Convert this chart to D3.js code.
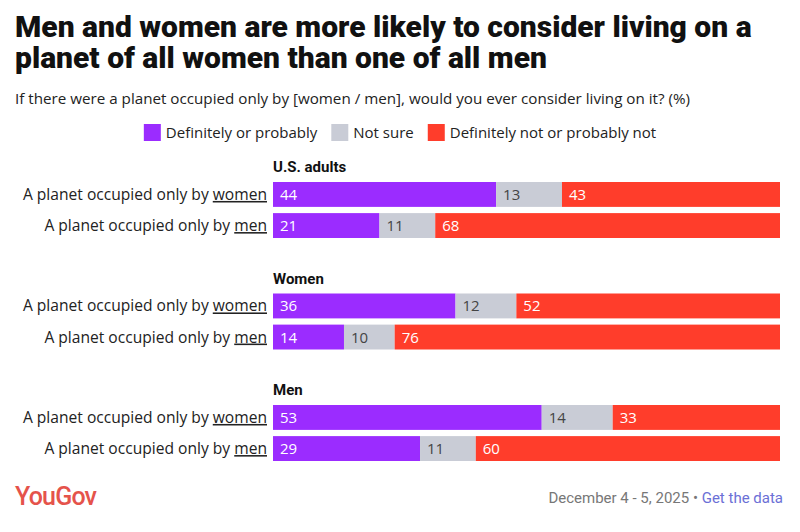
<!DOCTYPE html>
<html>
<head>
<meta charset="utf-8">
<script src="https://cdn.jsdelivr.net/npm/d3@7"></script>
<style>
  body { margin: 0; background: #fff; }
  svg { display: block; font-family: "Open Sans", sans-serif; }
</style>
</head>
<body>
<svg id="chart" width="800" height="532"></svg>
<script>
// data
var groups = ["U.S. adults", "Women", "Men"];
var rows = ["women", "men"];
var answers = ["Definitely or probably", "Not sure", "Definitely not or probably not"];
var colors = ["#9b2cff", "#c9ccd6", "#ff3d2b"];
var yes = [[44, 21], [36, 14], [53, 29]];
var notSure = [[13, 11], [12, 10], [14, 11]];
var no = [[43, 68], [52, 76], [33, 60]];

var svg = d3.select("#chart");

// title + subtitle
var title = svg.append("text")
    .attr("x", 15).attr("y", 37)
    .style("font-family", "Roboto, sans-serif")
    .style("font-weight", 900)
    .style("font-size", "30px")
    .style("fill", "#111");
title.append("tspan").attr("x", 15).attr("y", 37).text("Men and women are more likely to consider living on a");
title.append("tspan").attr("x", 15).attr("y", 68).text("planet of all women than one of all men");

svg.append("text")
    .attr("x", 15).attr("y", 104)
    .style("font-size", "15.2px")
    .style("fill", "#222")
    .text("If there were a planet occupied only by [women / men], would you ever consider living on it? (%)");

// legend, centred
var legend = svg.append("g").attr("id", "legend");
var lx = 0;
answers.forEach(function (a, i) {
    var g = legend.append("g").attr("transform", "translate(" + lx + ",0)");
    g.append("rect").attr("x", 0).attr("y", 124).attr("width", 17).attr("height", 17).style("fill", colors[i]);
    var t = g.append("text").attr("x", 22).attr("y", 138)
        .style("font-size", "15px").style("fill", "#222").text(a);
    lx += 22 + t.node().getComputedTextLength() + 14;
});
lx -= 14;
legend.attr("transform", "translate(" + (400 - lx / 2) + ",0)");

// scales
var x = d3.scaleLinear().domain([0, 100]).range([273, 780]);
var yGroup = d3.scalePoint().domain(groups).range([182, 405]);
var yRow = d3.scaleBand().domain(rows).range([0, 56]).paddingInner(0.2);

var stack = d3.stack().keys([0, 1, 2]);

groups.forEach(function (grp, gi) {
    var g0 = yGroup(grp);

    svg.append("text")
        .attr("x", x(0)).attr("y", g0 - 10)
        .style("font-family", "Roboto, sans-serif")
        .style("font-weight", 700)
        .style("font-size", "15px")
        .style("fill", "#111")
        .text(grp);

    var table = rows.map(function (r, ri) {
        return { row: r, 0: yes[gi][ri], 1: notSure[gi][ri], 2: no[gi][ri] };
    });
    var series = stack(table);

    series.forEach(function (s, si) {
        s.forEach(function (d) {
            var y0 = g0 + yRow(d.data.row);
            svg.append("rect")
                .attr("x", x(d[0]))
                .attr("y", y0)
                .attr("width", x(d[1]) - x(d[0]))
                .attr("height", yRow.bandwidth())
                .style("fill", colors[si]);
            svg.append("text")
                .attr("x", x(d[0]) + 7)
                .attr("y", y0 + yRow.bandwidth() / 2 + 5.5)
                .style("font-size", "15px")
                .style("fill", si == 1 ? "#444" : "#fff")
                .text(d[1] - d[0]);
        });
    });

    rows.forEach(function (r) {
        var t = svg.append("text")
            .attr("x", x(0) - 6)
            .attr("y", g0 + yRow(r) + yRow.bandwidth() / 2 + 5.5)
            .attr("text-anchor", "end")
            .style("font-size", "15.6px")
            .style("fill", "#222");
        t.append("tspan").text("A planet occupied only by ");
        t.append("tspan").style("text-decoration", "underline").text(r);
    });
});

// footer
svg.append("text")
    .attr("x", 15).attr("y", 505)
    .style("font-family", "Roboto, sans-serif")
    .style("font-size", "25px")
    .style("font-weight", 500)
    .style("letter-spacing", "-0.8px")
    .style("fill", "#e5534b")
    .text("YouGov");

var foot = svg.append("text")
    .attr("x", 783).attr("y", 503)
    .attr("text-anchor", "end")
    .style("font-family", "Roboto, sans-serif")
    .style("font-size", "15px")
    .style("fill", "#777");
foot.append("tspan").text("December 4 - 5, 2025 \u2022 ");
foot.append("tspan").style("fill", "#6b70d6").text("Get the data");
</script>
</body>
</html>
